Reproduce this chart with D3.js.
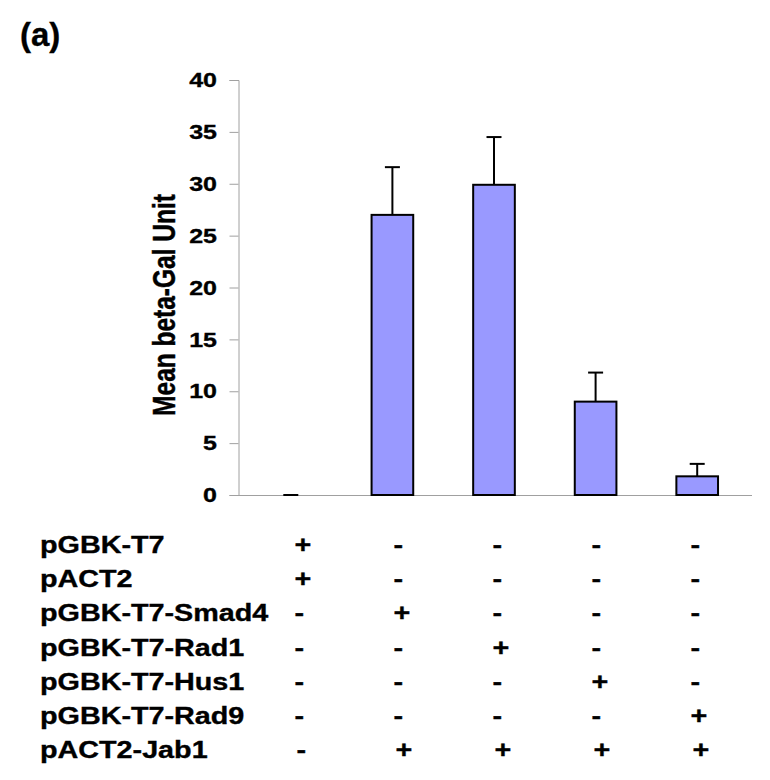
<!DOCTYPE html>
<html>
<head>
<meta charset="utf-8">
<script src="https://cdn.jsdelivr.net/npm/d3@7"></script>
<style>
  html, body { margin: 0; padding: 0; background: #fff; }
  svg { display: block; }
  text { font-family: "Liberation Sans", Arial, sans-serif; font-weight: bold; fill: #000; stroke: #000; stroke-width: 0.35px; }
</style>
</head>
<body>
<svg id="chart" width="770" height="780"></svg>
<script>
// ---- data ----
const categories = ["pGBK-T7 + pACT2", "Smad4 + Jab1", "Rad1 + Jab1", "Hus1 + Jab1", "Rad9 + Jab1"];
const meanValues = [0, 27.0, 29.9, 9.0, 1.8];
const errorValues = [0, 4.6, 4.6, 2.8, 1.2];
const yTicks = [0, 5, 10, 15, 20, 25, 30, 35, 40];
const yTitle = "Mean beta-Gal Unit";
const panelLabel = "(a)";
const rowLabels = ["pGBK-T7", "pACT2", "pGBK-T7-Smad4", "pGBK-T7-Rad1", "pGBK-T7-Hus1", "pGBK-T7-Rad9", "pACT2-Jab1"];
const rowSigns = [
  ["+", "-", "-", "-", "-"],
  ["+", "-", "-", "-", "-"],
  ["-", "+", "-", "-", "-"],
  ["-", "-", "+", "-", "-"],
  ["-", "-", "-", "+", "-"],
  ["-", "-", "-", "-", "+"],
  ["-", "+", "+", "+", "+"]
];

// ---- layout ----
const svg = d3.select("#chart");
const SX = 1.25; // horizontal stretch of the original figure text
const axisColor = "#a0a0a0";

const x = d3.scaleBand().domain(categories).range([240, 748]).paddingInner(0.59).paddingOuter(0.295);
const y = d3.scaleLinear().domain([0, 40]).range([495, 80]);
const axisX = x.range()[0] - 1.5;

// panel label
svg.append("text").attr("x", 20).attr("y", 46).attr("font-size", 33).text(panelLabel);

// y axis
const yAxis = d3.axisLeft(y).tickValues(yTicks).tickSize(9).tickFormat("");
const gy = svg.append("g").attr("transform", `translate(${axisX},0)`).call(yAxis);
gy.select(".domain").attr("stroke", axisColor).attr("stroke-width", 1);
gy.selectAll(".tick line").attr("stroke", axisColor).attr("stroke-width", 1);

svg.append("g").selectAll("text").data(yTicks).join("text")
  .attr("transform", d => `translate(217,${y(d) + 7.2}) scale(${SX},1)`)
  .attr("text-anchor", "end")
  .attr("font-size", 20)
  .text(d => d);

// y title
svg.append("text")
  .attr("transform", `translate(175,305) scale(${SX},1) rotate(-90)`)
  .attr("text-anchor", "middle")
  .attr("font-size", 24.5)
  .text(yTitle);

// baseline (x axis)
svg.append("line")
  .attr("x1", axisX).attr("x2", x.range()[1] + 4)
  .attr("y1", y(0) + 0.5).attr("y2", y(0) + 0.5)
  .attr("stroke", axisColor).attr("stroke-width", 1);

// bars
const bars = svg.append("g");
bars.selectAll("rect").data(categories).join("rect")
  .attr("x", d => x(d))
  .attr("y", (d, i) => y(meanValues[i]))
  .attr("width", x.bandwidth())
  .attr("height", (d, i) => y(0) - y(meanValues[i]))
  .attr("fill", "#9999ff")
  .attr("stroke", (d, i) => meanValues[i] > 0 ? "#000" : "none")
  .attr("stroke-width", 2);

// error bars (plus direction only)
const capW = 15;
const eb = svg.append("g").attr("stroke", "#000").attr("stroke-width", 2);
categories.forEach((c, i) => {
  const cx = x(c) + x.bandwidth() / 2;
  const top = y(meanValues[i] + errorValues[i]);
  if (errorValues[i] > 0) {
    eb.append("line").attr("x1", cx).attr("x2", cx).attr("y1", y(meanValues[i])).attr("y2", top);
  }
  eb.append("line").attr("x1", cx - capW / 2).attr("x2", cx + capW / 2).attr("y1", top).attr("y2", top);
});

// table of constructs
const rowY = d3.scaleLinear().domain([0, rowLabels.length - 1]).range([553, 758]);
const colX = d3.scalePoint().domain(d3.range(categories.length)).range([294.5, 690.5]);

const table = svg.append("g");
table.selectAll("text.lab").data(rowLabels).join("text")
  .attr("class", "lab")
  .attr("transform", (d, i) => `translate(40,${rowY(i)}) scale(${SX},1)`)
  .attr("font-size", 23)
  .text(d => d);

rowSigns.forEach((row, r) => {
  table.append("g").selectAll("text").data(row).join("text")
    .attr("transform", (d, c) => `translate(${colX(c) + (r === rowSigns.length - 1 ? 2 : 0)},${rowY(r)}) scale(${SX},1)`)
    .attr("font-size", 23)
    .text(d => d);
});
</script>
</body>
</html>
